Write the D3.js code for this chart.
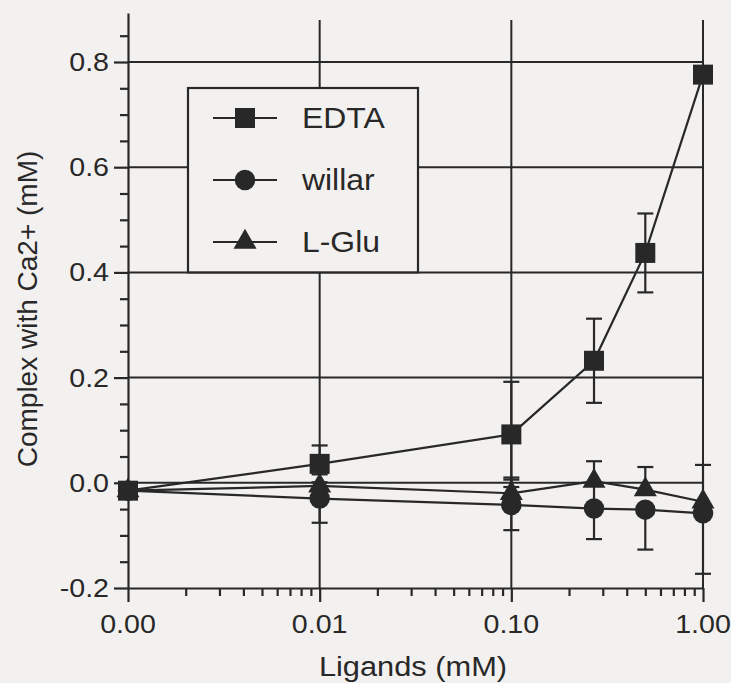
<!DOCTYPE html>
<html><head><meta charset="utf-8">
<script src="https://cdn.jsdelivr.net/npm/d3@7"></script>
<style>body{margin:0;background:#f3f1ef;} svg{display:block;}</style>
</head><body><svg id="c" width="731" height="683"></svg>
<script>
// ---- data ----
const xVals = [0.001, 0.01, 0.1, 0.27, 0.5, 1.0];
const edta        = [-0.015, 0.036, 0.092, 0.232, 0.437, 0.776];
const edtaErrUp   = [0, 0.035, 0.10, 0.08, 0.075, 0];
const edtaErrDown = [0, 0.035, 0.10, 0.08, 0.075, 0];
const willar        = [-0.015, -0.030, -0.042, -0.049, -0.051, -0.058];
const willarErrUp   = [0, 0.046, 0.048, 0.05, 0, 0];
const willarErrDown = [0, 0.046, 0.048, 0.058, 0.076, 0.115];
const lglu        = [-0.015, -0.006, -0.020, 0.003, -0.013, -0.036];
const lgluErrUp   = [0, 0, 0.03, 0.038, 0.043, 0.07];
const lgluErrDown = [0, 0, 0.03, 0, 0, 0];
const seriesNames = ["EDTA", "willar", "L-Glu"];
const xTickVals = [0.001, 0.01, 0.1, 1];
const xTickLabels = ["0.00", "0.01", "0.10", "1.00"];
const yTickVals = [-0.2, 0.0, 0.2, 0.4, 0.6, 0.8];
const yMinorVals = [-0.15, -0.1, -0.05, 0.05, 0.1, 0.15, 0.25, 0.3, 0.35, 0.45, 0.5, 0.55, 0.65, 0.7, 0.75, 0.85];
const xLabel = "Ligands (mM)";
const yLabel = "Complex with Ca2+ (mM)";

// ---- setup ----
const ink = "#282828";
const bg = "#f3f1ef";
const FONT = "'Liberation Sans', Arial, Helvetica, sans-serif";
const svg = d3.select("#c");
svg.append("rect").attr("width", 731).attr("height", 683).attr("fill", bg);

const x = d3.scaleLog().domain([0.001, 1]).range([128, 703]);
const y = d3.scaleLinear().domain([-0.2, 0.8]).range([588, 62]);
const yTop = 0.893;
const yAx = d3.scaleLinear().domain([-0.2, yTop]).range([y(-0.2), y(yTop)]);

// ---- gridlines ----
const grid = svg.append("g").attr("stroke", ink).attr("stroke-width", 2);
grid.selectAll("line.h").data(yTickVals.filter(v => v > -0.2)).join("line")
  .attr("x1", x(0.001)).attr("x2", x(1)).attr("y1", d => y(d)).attr("y2", d => y(d));
grid.selectAll("line.v").data(xTickVals.filter(v => v > 0.001)).join("line")
  .attr("x1", d => x(d)).attr("x2", d => x(d)).attr("y1", y(-0.2)).attr("y2", y(0.88));

// ---- legend box ----
const lg = svg.append("g");
lg.append("rect").attr("x", 188).attr("y", 88).attr("width", 230).attr("height", y(0.4) - 88)
  .attr("fill", bg).attr("stroke", ink).attr("stroke-width", 2.2);

// ---- axes ----
svg.append("g").attr("transform", `translate(${x(0.001)},0)`)
  .call(d3.axisLeft(yAx).tickValues(yTickVals).tickFormat("").tickSize(14).tickSizeOuter(0));
const yMinor = svg.append("g").attr("transform", `translate(${x(0.001)},0)`)
  .call(d3.axisLeft(yAx).tickValues(yMinorVals).tickFormat("").tickSize(8).tickSizeOuter(0));
yMinor.select(".domain").remove();

const xMinorVals = [];
[0.001, 0.01, 0.1].forEach(dec => { for (let k = 2; k <= 9; k++) xMinorVals.push(dec * k); });
svg.append("g").attr("transform", `translate(0,${y(-0.2)})`)
  .call(d3.axisBottom(x).tickValues(xTickVals).tickFormat("").tickSize(14).tickSizeOuter(0));
const xMinor = svg.append("g").attr("transform", `translate(0,${y(-0.2)})`)
  .call(d3.axisBottom(x).tickValues(xMinorVals).tickFormat("").tickSize(8).tickSizeOuter(0));
xMinor.select(".domain").remove();
svg.selectAll(".domain, .tick line").attr("stroke", ink).attr("stroke-width", 2.2);

// tick labels (slightly wide, like the scan)
svg.append("g").selectAll("text").data(yTickVals).join("text")
  .attr("transform", d => `translate(109,${y(d) + 9}) scale(1.1,1)`)
  .attr("text-anchor", "end").attr("font-family", FONT).attr("font-size", 26).attr("fill", ink)
  .text(d => d.toFixed(1));
svg.append("g").selectAll("text").data(xTickVals).join("text")
  .attr("transform", d => `translate(${x(d)},633) scale(1.1,1)`)
  .attr("text-anchor", "middle").attr("font-family", FONT).attr("font-size", 26).attr("fill", ink)
  .text((d, i) => xTickLabels[i]);

// axis titles
svg.append("text").attr("transform", "translate(413,676) scale(1.1,1)")
  .attr("text-anchor", "middle").attr("font-family", FONT).attr("font-size", 28).attr("fill", ink)
  .text(xLabel);
svg.append("text").attr("transform", "translate(37,309) rotate(-90)")
  .attr("text-anchor", "middle").attr("font-family", FONT).attr("font-size", 28).attr("fill", ink)
  .text(yLabel);

// ---- series ----
const series = [
  { name: seriesNames[0], vals: edta, up: edtaErrUp, down: edtaErrDown, sym: d3.symbolSquare, size: 400 },
  { name: seriesNames[1], vals: willar, up: willarErrUp, down: willarErrDown, sym: d3.symbolCircle, size: 330 },
  { name: seriesNames[2], vals: lglu, up: lgluErrUp, down: lgluErrDown, sym: d3.symbolTriangle, size: 230 }
];
const line = d3.line().x(d => x(d.x)).y(d => y(d.v));
const plot = svg.append("g");
const ptsOf = s => xVals.map((xv, i) => ({ x: xv, v: s.vals[i], up: s.up[i], down: s.down[i] }));
series.forEach(s => {
  plot.append("path").datum(ptsOf(s)).attr("d", line).attr("fill", "none")
    .attr("stroke", ink).attr("stroke-width", 2.2);
});
series.forEach(s => {
  const eb = plot.append("g").attr("stroke", ink).attr("stroke-width", 2.2);
  ["up", "down"].forEach(dir => {
    const pts = ptsOf(s).filter(d => d[dir] > 0);
    const end = d => y(dir === "up" ? d.v + d.up : d.v - d.down);
    eb.selectAll("line.s" + dir).data(pts).join("line").attr("class", "s" + dir)
      .attr("x1", d => x(d.x)).attr("x2", d => x(d.x)).attr("y1", d => y(d.v)).attr("y2", end);
    eb.selectAll("line.c" + dir).data(pts).join("line").attr("class", "c" + dir)
      .attr("x1", d => x(d.x) - 8).attr("x2", d => x(d.x) + 8).attr("y1", end).attr("y2", end);
  });
});
series.slice().reverse().forEach(s => {
  plot.append("g").selectAll("path").data(ptsOf(s)).join("path")
    .attr("transform", d => `translate(${x(d.x)},${y(d.v)})`)
    .attr("d", d3.symbol().type(s.sym).size(s.size)).attr("fill", ink);
});

// ---- legend entries ----
const legY = [118, 180, 242];
series.forEach((s, i) => {
  lg.append("line").attr("x1", 213).attr("x2", 277).attr("y1", legY[i]).attr("y2", legY[i])
    .attr("stroke", ink).attr("stroke-width", 2.2);
  lg.append("path").attr("transform", `translate(245,${legY[i]})`)
    .attr("d", d3.symbol().type(s.sym).size(s.size)).attr("fill", ink);
  lg.append("text").attr("transform", `translate(302,${legY[i] + 10}) scale(1.1,1)`)
    .attr("font-family", FONT).attr("font-size", 29).attr("fill", ink).text(s.name);
});
</script></body></html>
